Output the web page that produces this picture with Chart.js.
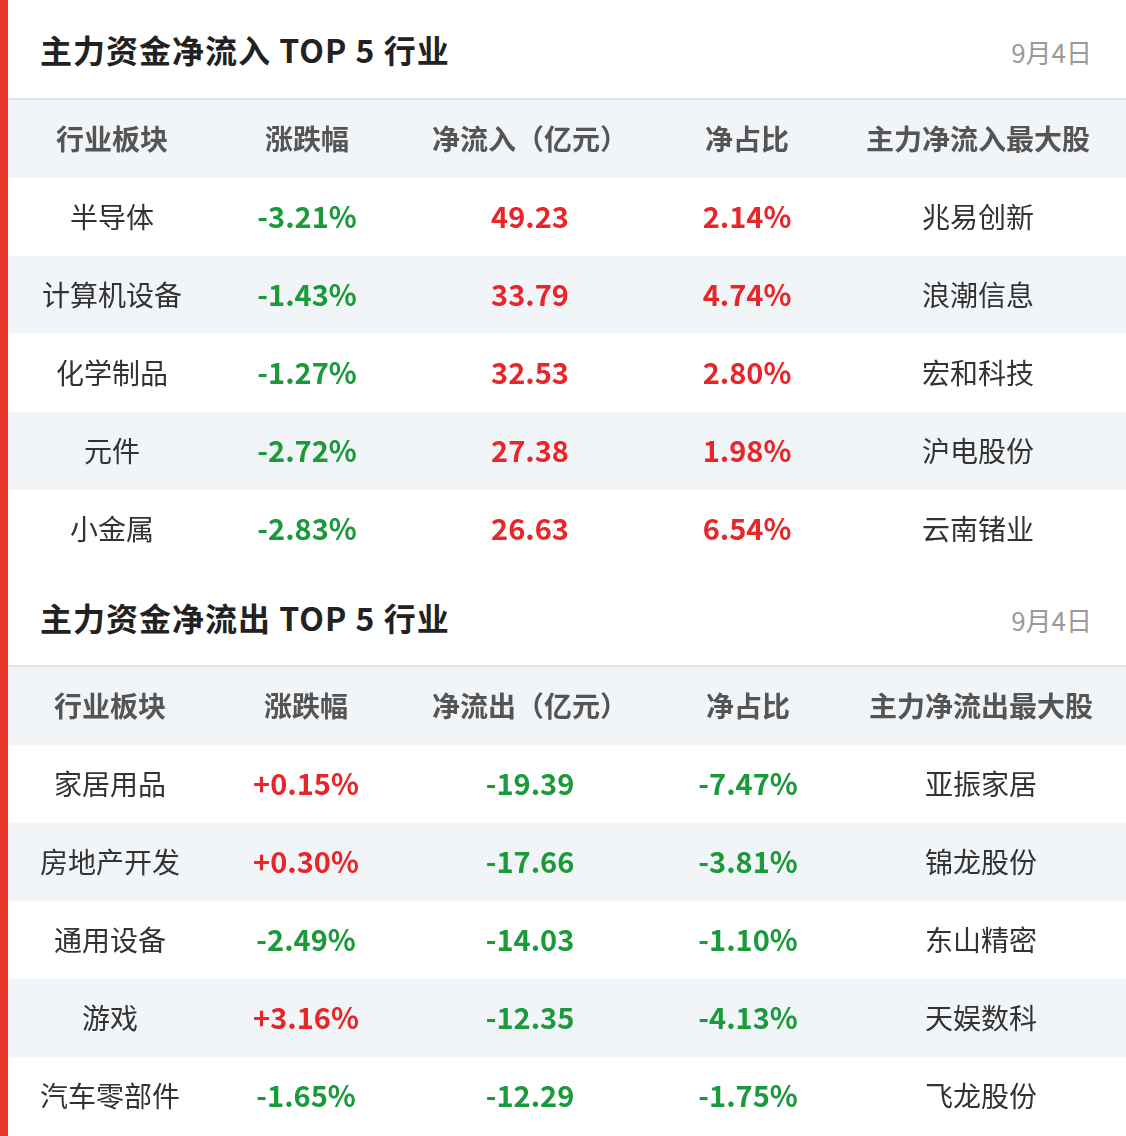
<!DOCTYPE html>
<html><head><meta charset="utf-8">
<script src="https://cdn.jsdelivr.net/npm/chart.js@4.4.0/dist/chart.umd.min.js"></script>
<style>
body{margin:0;width:1126px;height:1136px;background:#fff;position:relative;overflow:hidden;font-family:"Noto Sans CJK SC",sans-serif}
#bar{position:absolute;left:0;top:0;width:8px;height:1136px;background:#e8352a}
.t{position:absolute;left:40px;font-size:32px;font-weight:bold;color:#222;letter-spacing:1px}
.d{position:absolute;right:34px;font-size:26px;color:#999}
.ln{position:absolute;left:8px;right:0;height:2px;background:#dde2e8}
.wrap{position:absolute;left:8px;width:1118px;height:468px}
</style></head><body>
<div id="bar"></div>
<div class="t" style="top:26px">主力资金净流入 TOP 5 行业</div><div class="d" style="top:33px">9月4日</div>
<div class="ln" style="top:98px"></div>
<div class="wrap" style="top:100px"><canvas id="c1" width="1118" height="468"></canvas></div>
<div class="t" style="top:594px">主力资金净流出 TOP 5 行业</div><div class="d" style="top:601px">9月4日</div>
<div class="ln" style="top:665px"></div>
<div class="wrap" style="top:667px"><canvas id="c2" width="1118" height="468"></canvas></div>
<script>
const inHeaders=["行业板块","涨跌幅","净流入（亿元）","净占比","主力净流入最大股"];
const inSectors=["半导体","计算机设备","化学制品","元件","小金属"];
const inChange=["-3.21%","-1.43%","-1.27%","-2.72%","-2.83%"];
const inFlow=["49.23","33.79","32.53","27.38","26.63"];
const inRatio=["2.14%","4.74%","2.80%","1.98%","6.54%"];
const inStock=["兆易创新","浪潮信息","宏和科技","沪电股份","云南锗业"];
const outHeaders=["行业板块","涨跌幅","净流出（亿元）","净占比","主力净流出最大股"];
const outSectors=["家居用品","房地产开发","通用设备","游戏","汽车零部件"];
const outChange=["+0.15%","+0.30%","-2.49%","+3.16%","-1.65%"];
const outFlow=["-19.39","-17.66","-14.03","-12.35","-12.29"];
const outRatio=["-7.47%","-3.81%","-1.10%","-4.13%","-1.75%"];
const outStock=["亚振家居","锦龙股份","东山精密","天娱数科","飞龙股份"];
const RED="#e8262a",GREEN="#1a9a3a";
function col(v){return v.trim().startsWith("-")?GREEN:RED;}
function make(id,headers,cols,xs){
  const rows=["h","r1","r2","r3","r4","r5"];
  new Chart(document.getElementById(id),{
    type:'bar',
    data:{labels:rows,datasets:[{data:rows.map(()=>1118),
      backgroundColor:rows.map((r,i)=>i%2===0?"#f2f5f8":"#ffffff"),
      barPercentage:1,categoryPercentage:1,borderWidth:0}]},
    options:{indexAxis:'y',responsive:false,animation:false,devicePixelRatio:1,
      layout:{padding:0},
      plugins:{legend:{display:false},tooltip:{enabled:false}},
      scales:{x:{type:'linear',min:0,max:1118,display:false},y:{display:false}}},
    plugins:[{id:'txt',afterDatasetsDraw(ch){
      const c=ch.ctx,xS=ch.scales.x,yS=ch.scales.y;
      c.save();c.textAlign='center';c.textBaseline='middle';
      headers.forEach((h,j)=>{c.font='bold 28px "Noto Sans CJK SC"';c.fillStyle='#555';
        c.fillText(h,xS.getPixelForValue(xs[j]),yS.getPixelForValue(0));});
      for(let i=0;i<5;i++){
        const y=yS.getPixelForValue(i+1);
        cols.forEach((arr,j)=>{
          const v=arr[i];
          if(j===0||j===4){c.font='28px "Noto Sans CJK SC"';c.fillStyle='#333';}
          else{c.font='bold 29px "Noto Sans CJK SC"';c.fillStyle=col(v);}
          c.fillText(v,xS.getPixelForValue(xs[j]),y);
        });
      }
      c.restore();}}]
  });
}
make('c1',inHeaders,[inSectors,inChange,inFlow,inRatio,inStock],[104,299,522,739,970]);
make('c2',outHeaders,[outSectors,outChange,outFlow,outRatio,outStock],[102,298,522,740,973]);
</script></body></html>
